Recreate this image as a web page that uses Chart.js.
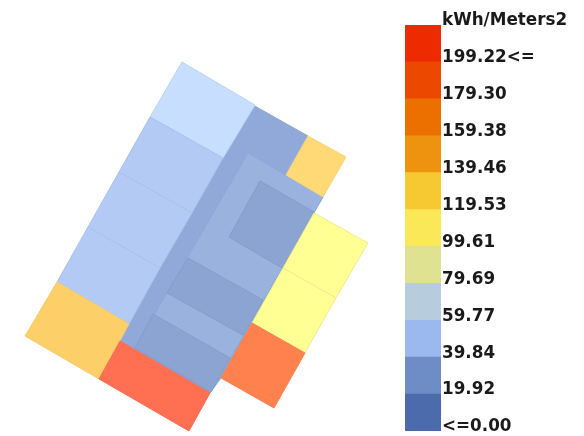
<!DOCTYPE html>
<html>
<head>
<meta charset="utf-8">
<title>kWh/Meters2</title>
<script src="https://cdn.jsdelivr.net/npm/chart.js@4"></script>
<style>
html, body { margin: 0; padding: 0; background: #fff; }
canvas { position: absolute; top: 0; }
#plano { left: 0; }
#escala { left: 405px; }
</style>
</head>
<body>
<canvas id="plano" width="405" height="436"></canvas>
<canvas id="escala" width="179" height="436"></canvas>
<script>
// floor plan zones, back to front, corners
var zoneNames = ['corridor', 'inner', 'coreTop', 'coreMid', 'coreLow', 'north', 'west1', 'west2', 'west3',
    'southWest', 'south', 'stair', 'east1', 'east2', 'southEast'];
var zoneX = [
    [253, 308, 286, 323, 314, 252, 221, 210, 118],
    [248, 323, 211, 135],
    [260, 314, 282, 229],
    [188, 263, 243, 167],
    [153, 230, 211, 135],
    [182, 255, 223, 150],
    [150, 223, 192, 119],
    [119, 192, 160, 88],
    [88, 160, 129, 57],
    [57, 129, 99, 25],
    [120, 210, 189, 99],
    [308, 346, 323, 286],
    [314, 368, 336, 283],
    [283, 336, 305, 252],
    [252, 305, 274, 221]
];
var zoneY = [
    [105, 136, 175, 197, 212, 323, 378, 393, 341],
    [153, 197, 392, 348],
    [181, 212, 268, 237],
    [258, 300, 335, 293],
    [314, 358, 392, 348],
    [62, 105, 158, 117],
    [117, 158, 213, 172],
    [172, 213, 268, 227],
    [227, 268, 324, 282],
    [282, 324, 379, 336],
    [341, 393, 431, 379],
    [136, 157, 197, 175],
    [213, 243, 298, 268],
    [268, 298, 353, 323],
    [323, 353, 408, 378]
];
var zoneColors = ['#90a9d8', '#9ab2de', '#8ba4d2', '#8ba4d2', '#8ba4d2', '#c7defe', '#b3cbf4', '#b3cbf4', '#b3cbf4',
    '#fdcf68', '#ff6f52', '#ffd975', '#ffff94', '#ffff94', '#ff824e'];
var zoneEdges = ['#8ea6d5', '#8fa8d6', '#849dcc', '#849dcc', '#849dcc', '#bcd3f4', '#a9c1ea', '#a9c1ea', '#a9c1ea',
    '#f7cb6c', '#fa6f55', '#f5d47a', '#ecec90', '#ecec90', '#f98250'];

// colour scale
var scaleValues = [0, 19.92, 39.84, 59.77, 79.69, 99.61, 119.53, 139.46, 159.38, 179.30, 199.22, 219.14];
var scaleLabels = ['<=0.00', '19.92', '39.84', '59.77', '79.69', '99.61', '119.53', '139.46', '159.38', '179.30',
    '199.22<=', 'kWh/Meters2'];
var scaleColors = ['#4b6bad', '#6e8dc7', '#9cb9ef', '#b7ccdc', '#dfe391', '#fbe858', '#f6c832', '#ee9310', '#ec7000',
    '#ec4800', '#ee2a00'];

function zoneDatasets() {
    var datasets = [];
    for (var i = 0; i < zoneNames.length; i++) {
        var puntos = zoneX[i].map(function (x, j) { return { x: x, y: zoneY[i][j] }; });
        puntos.push(puntos[0]);
        datasets.push({
            label: zoneNames[i],
            data: puntos,
            showLine: true,
            fill: 'shape',
            tension: 0,
            pointRadius: 0,
            borderWidth: 1,
            borderColor: zoneEdges[i],
            backgroundColor: zoneColors[i]
        });
    }
    // chart.js paints the first dataset on top
    return datasets.reverse();
}

new Chart(document.getElementById('plano').getContext('2d'), {
    type: 'scatter',
    data: { datasets: zoneDatasets() },
    options: {
        responsive: false,
        animation: false,
        plugins: { legend: { display: false }, tooltip: { enabled: false } },
        scales: {
            x: { display: false, min: 0, max: 405 },
            y: { display: false, min: 0, max: 436, reverse: true }
        }
    }
});

new Chart(document.getElementById('escala').getContext('2d'), {
    type: 'bar',
    data: {
        labels: [''],
        datasets: scaleColors.map(function (color, i) {
            return {
                data: [[scaleValues[i], scaleValues[i + 1]]],
                backgroundColor: color,
                grouped: false,
                barPercentage: 1,
                categoryPercentage: 1
            };
        })
    },
    options: {
        responsive: false,
        animation: false,
        layout: { padding: { top: 25, bottom: 5 } },
        plugins: { legend: { display: false }, tooltip: { enabled: false } },
        scales: {
            x: { display: false },
            y: {
                position: 'right',
                min: 0,
                max: 219.14,
                grid: { display: false, drawTicks: false },
                border: { display: false },
                afterBuildTicks: function (scale) {
                    scale.ticks = scaleValues.map(function (v) { return { value: v }; });
                },
                afterFit: function (scale) {
                    scale.width = 143;
                    scale.paddingTop = 0;
                    scale.paddingBottom = 0;
                },
                ticks: {
                    autoSkip: false,
                    padding: 1,
                    labelOffset: -4,
                    color: '#1a1a1a',
                    font: { family: 'DejaVu Sans', weight: 'bold', size: 16.8 },
                    callback: function (value, i) { return scaleLabels[i]; }
                }
            }
        }
    }
});
</script>
</body>
</html>
